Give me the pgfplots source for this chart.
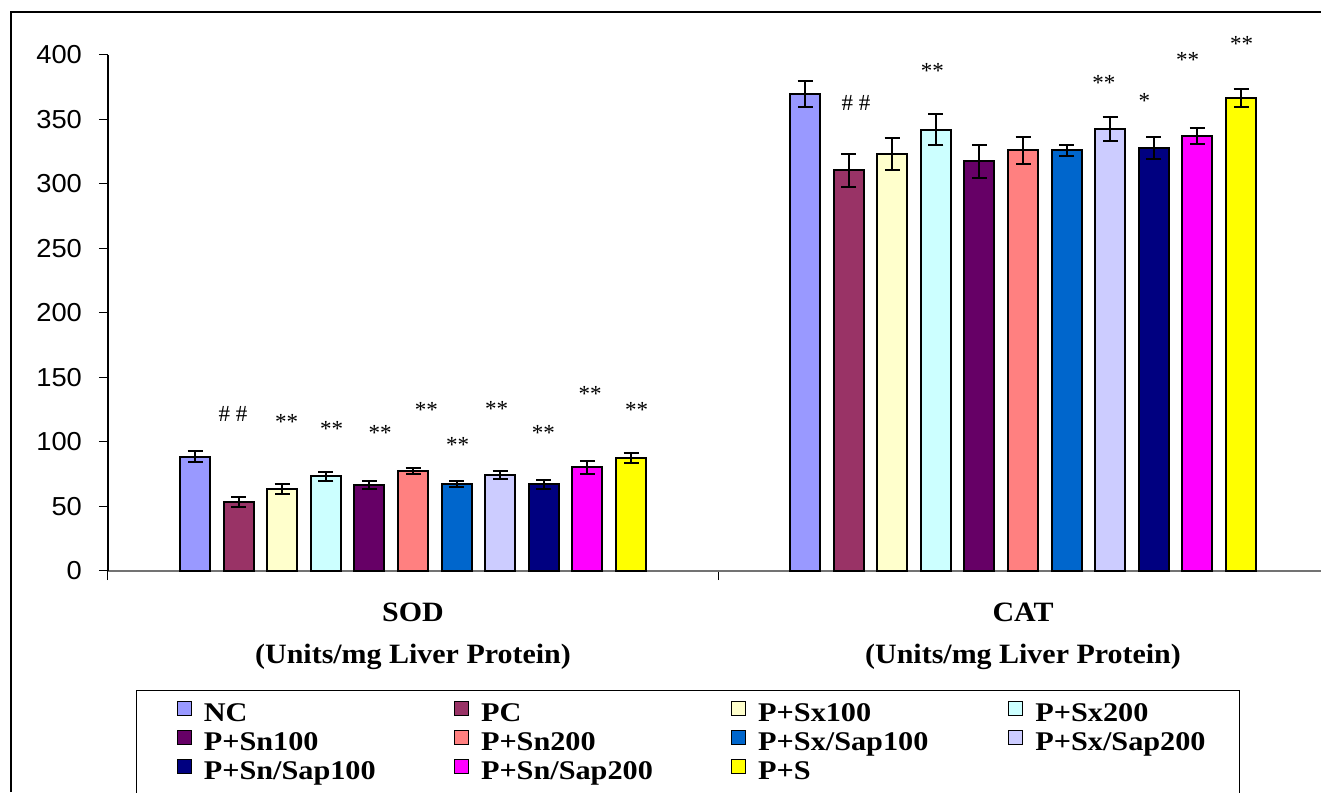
\documentclass[border=0pt]{standalone}
\usepackage{fontspec}
\setmainfont{Liberation Serif}
\newfontfamily\tickfont{Liberation Sans}[FakeStretch=1.05]
\newfontfamily\lgdfont{Liberation Serif}[FakeStretch=1.12]
\newfontfamily\catfont{Liberation Serif}[FakeStretch=1.07]
\usepackage{pgfplots}
\pgfplotsset{compat=1.18}
\definecolor{cNC}{HTML}{9999FF}
\definecolor{cPC}{HTML}{993366}
\definecolor{cSxa}{HTML}{FFFFCC}
\definecolor{cSxb}{HTML}{CCFFFF}
\definecolor{cSna}{HTML}{660066}
\definecolor{cSnb}{HTML}{FF8080}
\definecolor{cSxSa}{HTML}{0066CC}
\definecolor{cSxSb}{HTML}{CCCCFF}
\definecolor{cSnSa}{HTML}{000080}
\definecolor{cSnSb}{HTML}{FF00FF}
\definecolor{cPS}{HTML}{FFFF00}
\begin{document}
\begin{tikzpicture}
\useasboundingbox (0pt,0pt) rectangle (660.5pt,396pt);
\draw[line width=1pt] (5.5pt,0pt) -- (5.5pt,390pt) -- (660.5pt,390pt);
\begin{axis}[
  at={(54pt,110.5pt)}, anchor=south west,
  scale only axis, width=606.5pt, height=258pt,
  xmin=-0.5, xmax=1.4885, ymin=0, ymax=400,
  clip=false,
  axis x line*=bottom, axis y line*=left,
  x axis line style={black!55, line width=0.7pt, -},
  y axis line style={black, line width=0.6pt, -},
  xtick={-0.5,0.5}, xticklabels={},
  ytick={0,50,...,400},
  tick align=outside,
  major tick length=4.5pt,
  tick style={black, line width=0.5pt},
  /pgf/number format/assume math mode=true,
  yticklabel style={font=\tickfont\fontsize{13}{15}\selectfont, anchor=east, xshift=-5pt},
  ybar=6.8pt, bar width=15pt,
  every axis plot/.append style={draw=black, line width=1pt,
    error bars/y dir=both, error bars/y explicit,
    error bars/error bar style={black, line width=1pt},
    error bars/error mark options={black, rotate=90, mark size=3.75pt, line width=1pt}},
  legend columns=4,
  legend cell align=left,
  legend image code/.code={\draw[#1, draw=black, line width=0.6pt] (0pt,0.5pt) rectangle (7pt,7.5pt);},
  legend style={at={(axis description cs:0.0231,-0.2306)}, anchor=north west,
    draw=black, line width=0.6pt, inner xsep=20pt, inner ysep=5pt,
    column sep=0pt, row sep=0pt,
    font=\lgdfont\bfseries\fontsize{13.5}{13.5}\selectfont,
    nodes={inner xsep=6pt, inner ysep=0pt, text height=9.5pt, text depth=4pt}},
]
\addplot[fill=cNC] coordinates {(0,88.6) +- (0,4.4) (1,369.8) +- (0,10.1)};
\addlegendentry{\makebox[119pt][l]{NC}}
\addplot[fill=cPC] coordinates {(0,53.5) +- (0,3.9) (1,310.6) +- (0,12.8)};
\addlegendentry{\makebox[119pt][l]{PC}}
\addplot[fill=cSxa] coordinates {(0,63.6) +- (0,3.6) (1,323.3) +- (0,12.1)};
\addlegendentry{\makebox[119pt][l]{P+Sx100}}
\addplot[fill=cSxb] coordinates {(0,73.4) +- (0,3.6) (1,341.9) +- (0,12.0)};
\addlegendentry{P+Sx200\hspace*{-9pt}}
\addplot[fill=cSna] coordinates {(0,66.4) +- (0,3.1) (1,317.6) +- (0,12.7)};
\addlegendentry{\makebox[119pt][l]{P+Sn100}}
\addplot[fill=cSnb] coordinates {(0,77.8) +- (0,2.3) (1,326.1) +- (0,10.5)};
\addlegendentry{\makebox[119pt][l]{P+Sn200}}
\addplot[fill=cSxSa] coordinates {(0,67.4) +- (0,2.2) (1,326.1) +- (0,4.3)};
\addlegendentry{\makebox[119pt][l]{P+Sx/Sap100}}
\addplot[fill=cSxSb] coordinates {(0,74.7) +- (0,3.1) (1,342.9) +- (0,9.2)};
\addlegendentry{P+Sx/Sap200\hspace*{-9pt}}
\addplot[fill=cSnSa] coordinates {(0,67.4) +- (0,3.5) (1,327.7) +- (0,8.4)};
\addlegendentry{\makebox[119pt][l]{P+Sn/Sap100}}
\addplot[fill=cSnSb] coordinates {(0,80.4) +- (0,5.2) (1,337.4) +- (0,6.2)};
\addlegendentry{\makebox[119pt][l]{P+Sn/Sap200}}
\addplot[fill=cPS] coordinates {(0,87.4) +- (0,3.7) (1,366.9) +- (0,7.1)};
\addlegendentry{\makebox[119pt][l]{P+S}}
% significance marks
\begin{scope}[every node/.style={font=\fontsize{11.5}{12}\selectfont, anchor=base, inner sep=0pt}]
\node at (axis cs:-0.295,115.9) {\# \#};
\node at (axis cs:-0.207,109.6) {**};
\node at (axis cs:-0.1336,103.9) {**};
\node at (axis cs:-0.0541,100.8) {**};
\node at (axis cs:0.0221,118.9) {**};
\node at (axis cs:0.0733,92) {**};
\node at (axis cs:0.1372,119.4) {**};
\node at (axis cs:0.2136,101.3) {**};
\node at (axis cs:0.2902,131.5) {**};
\node at (axis cs:0.3667,118.9) {**};
\node at (axis cs:0.7262,356.8) {\# \#};
\node at (axis cs:0.8516,381.7) {**};
\node at (axis cs:1.1325,372.6) {**};
\node at (axis cs:1.1989,358.4) {*};
\node at (axis cs:1.2697,390.2) {**};
\node at (axis cs:1.3582,402.9) {**};
\end{scope}
% category labels
\begin{scope}[every node/.style={font=\catfont\bfseries\fontsize{14}{16}\selectfont, anchor=base, inner sep=0pt}]
\node at (axis cs:0,0) [yshift=-25pt] {SOD};
\node at (axis cs:0,0) [yshift=-46pt] {(Units/mg Liver Protein)};
\node at (axis cs:1,0) [yshift=-25pt] {CAT};
\node at (axis cs:1,0) [yshift=-46pt] {(Units/mg Liver Protein)};
\end{scope}
\end{axis}
\end{tikzpicture}
\end{document}
